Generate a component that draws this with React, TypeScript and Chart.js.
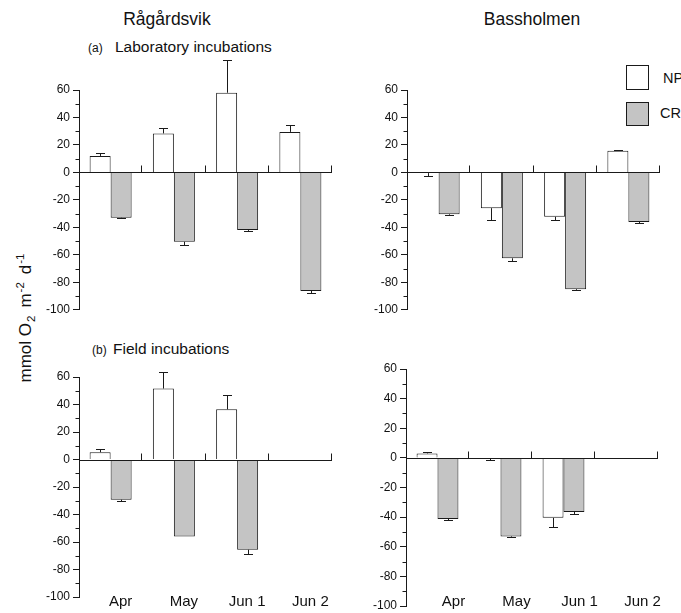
import React, { useEffect, useRef } from "react";
import { Chart, registerables } from "chart.js";

Chart.register(...registerables);

const FONT = "'Liberation Sans', Arial, Helvetica, sans-serif";
const INK = "#1a1a1a";
const GREY = "#c4c4c4";

// Sampling occasions
const months = ["Apr", "May", "Jun 1", "Jun 2"];

// Rågårdsvik, (a) laboratory incubations — mmol O2 m-2 d-1
const ragLabNP = [12, 28.4, 58, 29.5];
const ragLabNPErr = [2.5, 4, 24, 5.2];
const ragLabCR = [-33, -50.5, -42, -86.3];
const ragLabCRErr = [0.5, 2.4, 1, 1.5];

// Bassholmen, (a) laboratory incubations
const basLabNP = [-0.5, -26, -32.3, 15.7];
const basLabNPErr = [2.2, 8.5, 2, 0.3];
const basLabCR = [-30.5, -62.5, -85, -36];
const basLabCRErr = [0.5, 1.7, 0.6, 0.7];

// Rågårdsvik, (b) field incubations (no Jun 2 sample)
const ragFieldNP = [5.3, 51.6, 36.5, null];
const ragFieldNPErr = [2, 12.4, 10.2, null];
const ragFieldCR = [-29.2, -56, -65.6, null];
const ragFieldCRErr = [1, 0, 3.2, null];

// Bassholmen, (b) field incubations (no Jun 2 sample)
const basFieldNP = [3, -0.5, -40.5, null];
const basFieldNPErr = [0.8, 0.6, 6.5, null];
const basFieldCR = [-41.2, -53, -36.5, null];
const basFieldCRErr = [0.5, 0.7, 1.3, null];

// Y axis range shared by every panel
const yMin = -100;
const yMax = 60;
const yStep = 20;

// Draws error whiskers away from zero for each bar
const errorBars = {
  id: "errorBars",
  afterDatasetsDraw(chart: any) {
    const ctx = chart.ctx;
    const y = chart.scales.y;
    chart.data.datasets.forEach((ds: any, di: number) => {
      const errs = ds.errors as (number | null)[] | undefined;
      if (!errs) return;
      const meta = chart.getDatasetMeta(di);
      meta.data.forEach((el: any, i: number) => {
        const v = ds.data[i];
        const e = errs[i];
        if (v == null || !e) return;
        const dir = v >= 0 ? 1 : -1;
        const x = Math.round(el.x) + 0.5;
        const y0 = y.getPixelForValue(v);
        const y1 = Math.round(y.getPixelForValue(v + dir * e)) + 0.5;
        ctx.save();
        ctx.strokeStyle = INK;
        ctx.lineWidth = 1;
        ctx.beginPath();
        ctx.moveTo(x, y0);
        ctx.lineTo(x, y1);
        ctx.moveTo(x - 4.5, y1);
        ctx.lineTo(x + 4.5, y1);
        ctx.stroke();
        ctx.restore();
      });
    });
  },
};

// Zero baseline with upward marks between months, minor y ticks,
// and (optionally) the month names under the panel
const axisDecor = {
  id: "axisDecor",
  afterDatasetsDraw(chart: any, _args: any, opts: any) {
    const { ctx, chartArea, scales } = chart;
    const x = scales.x;
    const y = scales.y;
    const { left, right, bottom } = chartArea;
    const y0 = Math.round(y.getPixelForValue(0)) + 0.5;
    const step = x.getPixelForValue(1) - x.getPixelForValue(0);
    ctx.save();
    ctx.strokeStyle = INK;
    ctx.lineWidth = 1;
    ctx.beginPath();
    ctx.moveTo(left, y0);
    ctx.lineTo(right, y0);
    for (let i = 0; i < months.length; i++) {
      const bx = Math.round(x.getPixelForValue(i) + step / 2) - 0.5;
      ctx.moveTo(bx, y0);
      ctx.lineTo(bx, y0 - 7);
    }
    for (let v = yMin + yStep / 2; v < yMax; v += yStep) {
      const py = Math.round(y.getPixelForValue(v)) + 0.5;
      ctx.moveTo(left - 3.5, py);
      ctx.lineTo(left, py);
    }
    ctx.stroke();

    if (opts && opts.showMonths) {
      ctx.fillStyle = "#111";
      ctx.font = `15px ${FONT}`;
      ctx.textAlign = "center";
      ctx.textBaseline = "alphabetic";
      months.forEach((m, i) => {
        ctx.fillText(m, x.getPixelForValue(i) + opts.labelOffset, bottom + opts.baselineDy);
      });
    }
    ctx.restore();
  },
};

type PanelProps = {
  np: (number | null)[];
  npErr: (number | null)[];
  cr: (number | null)[];
  crErr: (number | null)[];
  left: number;
  top: number;
  width: number;
  height: number;
  padTop: number;
  padBottom: number;
  showMonths: boolean;
  labelOffset?: number;
  baselineDy?: number;
};

function Panel(p: PanelProps) {
  const ref = useRef<HTMLCanvasElement | null>(null);
  useEffect(() => {
    if (!ref.current) return;
    const chart = new Chart(ref.current, {
      type: "bar",
      data: {
        labels: months,
        datasets: [
          {
            label: "NP",
            data: p.np,
            errors: p.npErr,
            backgroundColor: "#ffffff",
            borderColor: INK,
            borderWidth: 1,
            categoryPercentage: 0.664,
            barPercentage: 1,
          } as any,
          {
            label: "CR",
            data: p.cr,
            errors: p.crErr,
            backgroundColor: GREY,
            borderColor: INK,
            borderWidth: 1,
            categoryPercentage: 0.664,
            barPercentage: 1,
          } as any,
        ],
      },
      options: {
        responsive: false,
        animation: false,
        devicePixelRatio: 1,
        layout: { padding: { top: p.padTop, right: 10, bottom: p.padBottom, left: 0 } },
        plugins: {
          legend: { display: false },
          tooltip: { enabled: false },
          axisDecor: {
            showMonths: p.showMonths,
            labelOffset: p.labelOffset ?? 0,
            baselineDy: p.baselineDy ?? 0,
          },
        },
        scales: {
          x: {
            type: "category",
            display: false,
            offset: true,
          },
          y: {
            min: yMin,
            max: yMax,
            ticks: {
              stepSize: yStep,
              color: "#111",
              font: { family: FONT, size: 12 },
              padding: 3,
            },
            grid: {
              drawOnChartArea: false,
              drawTicks: true,
              tickLength: 6,
              tickColor: INK,
            },
            border: { display: true, color: INK, width: 1 },
            afterFit: (s: any) => {
              s.width = 50;
            },
          },
        },
      } as any,
      plugins: [errorBars, axisDecor],
    });
    return () => chart.destroy();
  }, []);
  return (
    <canvas
      ref={ref}
      width={p.width}
      height={p.height}
      style={{ position: "absolute", left: p.left, top: p.top, width: p.width, height: p.height }}
    />
  );
}

function Text(props: { x: number; base: number; size: number; children: React.ReactNode; center?: boolean }) {
  const { x, base, size, center } = props;
  return (
    <div
      style={{
        position: "absolute",
        left: x,
        top: base - 0.8465 * size,
        fontSize: size,
        lineHeight: 1,
        whiteSpace: "nowrap",
        transform: center ? "translateX(-50%)" : undefined,
      }}
    >
      {props.children}
    </div>
  );
}

export default function App() {
  const sub: React.CSSProperties = { fontSize: 11.5, position: "relative", top: 4, marginLeft: 1 };
  const sup: React.CSSProperties = { fontSize: 11.5, position: "relative", top: -7, marginLeft: 1 };
  return (
    <div
      style={{
        position: "fixed",
        left: 0,
        top: 0,
        width: 681,
        height: 613,
        overflow: "hidden",
        background: "#fff",
        color: "#111",
        fontFamily: FONT,
      }}
    >
      <Text x={167} base={25.5} size={17.5} center>
        Rågårdsvik
      </Text>
      <Text x={532} base={25.5} size={17.5} center>
        Bassholmen
      </Text>
      <Text x={88} base={52} size={12}>
        (a)
      </Text>
      <Text x={115} base={52} size={15.5}>
        Laboratory incubations
      </Text>
      <Text x={92} base={354} size={12}>
        (b)
      </Text>
      <Text x={113} base={354} size={15.5}>
        Field incubations
      </Text>

      {/* legend */}
      <div style={{ position: "absolute", left: 626, top: 65, width: 23, height: 25, boxSizing: "border-box", border: `1.5px solid ${INK}`, background: "#fff" }} />
      <div style={{ position: "absolute", left: 626, top: 102, width: 23, height: 24, boxSizing: "border-box", border: `1.5px solid ${INK}`, background: GREY }} />
      <Text x={663} base={83} size={14.5}>
        NP
      </Text>
      <Text x={660} base={118} size={14.5}>
        CR
      </Text>

      {/* y axis title */}
      <div
        style={{
          position: "absolute",
          left: 25,
          top: 318,
          transform: "translate(-50%, -50%) rotate(-90deg)",
          fontSize: 17,
          lineHeight: 1,
          whiteSpace: "nowrap",
        }}
      >
        mmol O<span style={sub}>2</span>
        <span style={{ marginLeft: 8 }}>m</span>
        <span style={sup}>-2</span>
        <span style={{ marginLeft: 8 }}>d</span>
        <span style={sup}>-1</span>
      </div>

      <Panel np={ragLabNP} npErr={ragLabNPErr} cr={ragLabCR} crErr={ragLabCRErr}
        left={29} top={40} width={313} height={280} padTop={50} padBottom={10} showMonths={false} />
      <Panel np={basLabNP} npErr={basLabNPErr} cr={basLabCR} crErr={basLabCRErr}
        left={357} top={40} width={313} height={280} padTop={50} padBottom={10} showMonths={false} />
      <Panel np={ragFieldNP} npErr={ragFieldNPErr} cr={ragFieldCR} crErr={ragFieldCRErr}
        left={29} top={357} width={313} height={256} padTop={20} padBottom={16} showMonths
        labelOffset={10} baselineDy={9} />
      <Panel np={basFieldNP} npErr={basFieldNPErr} cr={basFieldCR} crErr={basFieldCRErr}
        left={356} top={349} width={312} height={273} padTop={20} padBottom={16} showMonths
        labelOffset={16} baselineDy={0} />
    </div>
  );
}
